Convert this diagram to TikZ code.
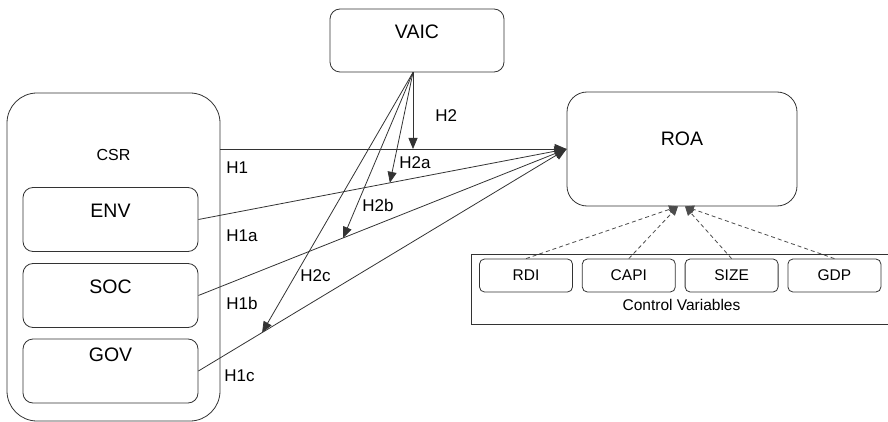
\documentclass[tikz,border=0pt]{standalone}
\usepackage{fontspec}
\setmainfont{Liberation Sans}
\usetikzlibrary{arrows.meta, positioning, calc}

\begin{document}
\begin{tikzpicture}[
    x=1pt, y=-1pt,
    line width=0.8pt,
    box/.style={draw=black!80, rectangle, rounded corners=10pt},
    smallbox/.style={draw=black!80, rectangle, rounded corners=5pt, minimum width=93pt, minimum height=33pt, font=\fontsize{15.5}{18}\selectfont},
    bigtext/.style={anchor=center, font=\fontsize{19.5}{22}\selectfont},
    hlabel/.style={anchor=west, inner sep=0pt, font=\fontsize{17}{20}\selectfont},
    mainarrow/.style={draw=black!80, -{Triangle[length=12pt, width=10pt]}},
    vaicarrow/.style={draw=black!80, -{Triangle[length=11pt, width=9pt]}},
    ctrlarrow/.style={draw=black!70, dashed, dash pattern=on 4pt off 3pt, -{Triangle[length=9pt, width=8pt]}}
]
\useasboundingbox (0,0) rectangle (888,422);

% Moderator
\node[box, minimum width=174pt, minimum height=63pt,
    label={[bigtext, yshift=8.5pt]center:VAIC}] (vaic) at (417,40.5) {};

% CSR and its parts
\node[box, rounded corners=30pt, minimum width=213pt, minimum height=328pt,
    label={[anchor=center, yshift=-62pt, font=\fontsize{16}{19}\selectfont]north:CSR}] (csr) at (113.5,257) {};
\node[box, minimum width=175pt, minimum height=64pt,
    label={[bigtext, yshift=9pt]center:ENV}] (env) at (110.5,219.5) {};
\node[box, minimum width=175pt, minimum height=64pt,
    label={[bigtext, yshift=9pt]center:SOC}] (soc) at (110.5,295.5) {};
\node[box, minimum width=175pt, minimum height=64pt,
    label={[bigtext, yshift=16pt]center:GOV}] (gov) at (110.5,371) {};

% Outcome
\node[box, rounded corners=20pt, minimum width=230pt, minimum height=114pt,
    label={[bigtext, yshift=10pt]center:ROA}] (roa) at (682,149) {};

% Control variables
\node[draw=black!80, rectangle, minimum width=421pt, minimum height=70pt,
    label={[anchor=center, yshift=-16pt, font=\fontsize{15.5}{18}\selectfont]center:Control Variables}] (ctrl) at (681.5,289) {};
\node[smallbox] (rdi) at (526,275.5) {RDI};
\node[smallbox, right=9pt of rdi] (capi) {CAPI};
\node[smallbox, right=9pt of capi] (size) {SIZE};
\node[smallbox, right=9pt of size] (gdp) {GDP};

% Direct paths
\coordinate (csrout) at (csr.east |- roa.west);
\draw[mainarrow] (csrout) -- (roa.west);
\draw[mainarrow] (env.east) -- (roa.west);
\draw[mainarrow] (soc.east) -- (roa.west);
\draw[mainarrow] (gov.east) -- (roa.west);

% Moderating paths
\coordinate (vaicout) at ([xshift=-4pt]vaic.south);
\coordinate (h2) at (vaicout |- roa.west);
\coordinate (h2a) at ($(env.east)!0.52!(roa.west)$);
\coordinate (h2b) at ($(soc.east)!0.393!(roa.west)$);
\coordinate (h2c) at ($(gov.east)!0.173!(roa.west)$);
\draw[vaicarrow] (vaicout) -- (h2);
\draw[vaicarrow] (vaicout) -- (h2a);
\draw[vaicarrow] (vaicout) -- (h2b);
\draw[vaicarrow] (vaicout) -- (h2c);

% Control arrows
\draw[ctrlarrow] (rdi.north) -- ([xshift=-4pt]roa.south);
\draw[ctrlarrow] (capi.north) -- ([xshift=-4pt]roa.south);
\draw[ctrlarrow] (size.north) -- ([xshift=3pt]roa.south);
\draw[ctrlarrow] (gdp.north) -- ([xshift=3pt]roa.south);

% Hypothesis labels
\node[hlabel] (lh1) at (226,168) {H1};
\node[hlabel] (lh1a) at (226,236) {H1a};
\node[hlabel] (lh1b) at (226,303) {H1b};
\node[hlabel] (lh1c) at (224,376) {H1c};
\node[hlabel] (lh2) at (435,116) {H2};
\node[hlabel] (lh2a) at (399,163) {H2a};
\node[hlabel] (lh2b) at (362,205) {H2b};
\node[hlabel] (lh2c) at (300,276) {H2c};

\end{tikzpicture}
\end{document}
